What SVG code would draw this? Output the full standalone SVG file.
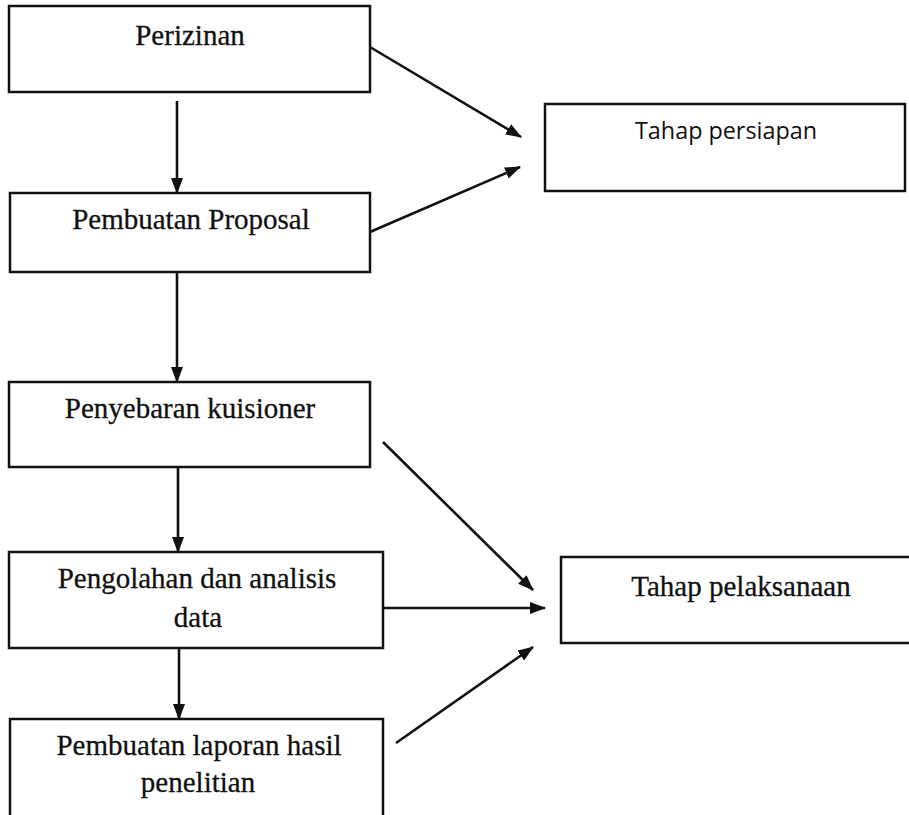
<svg xmlns="http://www.w3.org/2000/svg" width="909" height="815" viewBox="0 0 909 815">
<defs>
<style>
.box{fill:#fff;stroke:#111;stroke-width:2.5}
.t{font-family:"Liberation Serif","Times New Roman",serif;font-size:29px;fill:#111;text-anchor:middle;stroke:#111;stroke-width:0.3}
.s{font-family:"Open Sans","Noto Sans",sans-serif;font-size:23px;fill:#111;text-anchor:middle}
.c{stroke:#111;stroke-width:2.6;fill:none;marker-end:url(#ah)}
</style>
<marker id="ah" viewBox="0 0 16 12" refX="15" refY="6" markerWidth="16" markerHeight="12" markerUnits="userSpaceOnUse" orient="auto">
<path d="M0,0 L16,6 L0,12 Z" fill="#111"/>
</marker>
</defs>
<rect width="909" height="815" fill="#fff"/>
<g id="perizinan"><rect class="box" x="9" y="6" width="361" height="86"/><text class="t" x="190" y="45">Perizinan</text></g>
<g id="proposal"><rect class="box" x="10" y="193" width="360" height="79"/><text class="t" x="191" y="229">Pembuatan Proposal</text></g>
<g id="persiapan"><rect class="box" x="545" y="104" width="360" height="87"/><text class="s" x="726" y="139" textLength="182" lengthAdjust="spacingAndGlyphs">Tahap persiapan</text></g>
<g id="penyebaran"><rect class="box" x="9" y="382" width="361" height="85"/><text class="t" x="190" y="418">Penyebaran kuisioner</text></g>
<g id="pengolahan"><rect class="box" x="9" y="552" width="374" height="96"/><text class="t" x="197" y="588">Pengolahan dan analisis</text><text class="t" x="198" y="627">data</text></g>
<g id="laporan"><rect class="box" x="10" y="719" width="373" height="110"/><text class="t" x="199" y="755">Pembuatan laporan hasil</text><text class="t" x="198" y="792">penelitian</text></g>
<g id="pelaksanaan"><rect class="box" x="561" y="557" width="360" height="86"/><text class="t" x="741" y="596">Tahap pelaksanaan</text></g>
<g id="connectors">
<line class="c" x1="177" y1="101" x2="177" y2="193"/>
<line class="c" x1="370" y1="47" x2="521" y2="137"/>
<line class="c" x1="370" y1="232" x2="520" y2="167"/>
<line class="c" x1="177" y1="272" x2="177" y2="382"/>
<line class="c" x1="178" y1="467" x2="178" y2="552"/>
<line class="c" x1="179" y1="648" x2="179" y2="719"/>
<line class="c" x1="383" y1="442" x2="533" y2="590"/>
<line class="c" x1="383" y1="608" x2="545" y2="608"/>
<line class="c" x1="396" y1="743" x2="533" y2="647"/>
</g>
</svg>
